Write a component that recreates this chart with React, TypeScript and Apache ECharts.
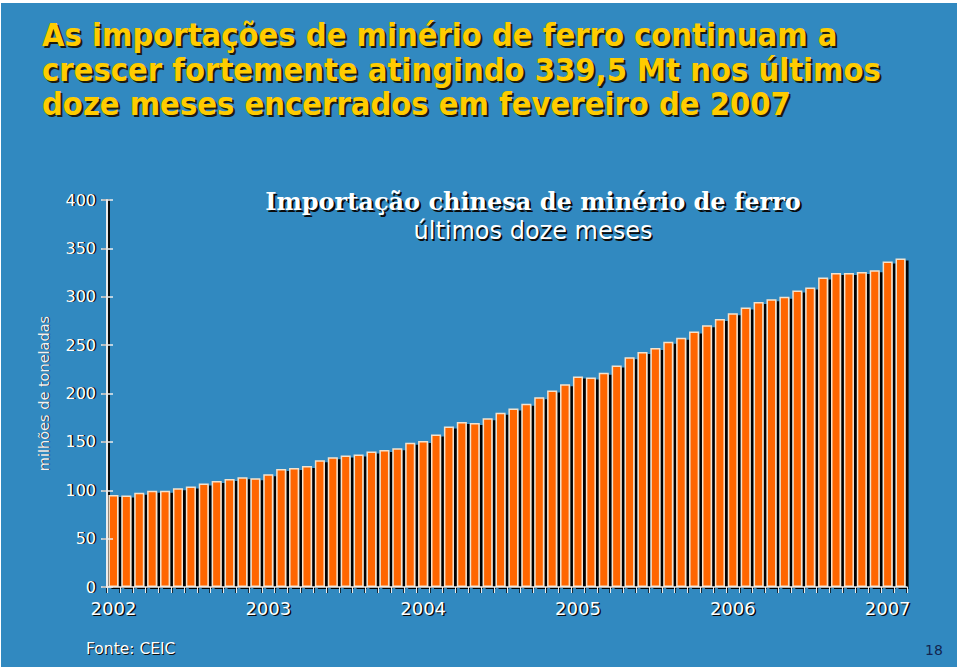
import React, { useEffect, useRef } from "react";
import * as echarts from "echarts";

// Monthly categories Jan 2002 .. Feb 2007 (12-month rolling sum)
const years = [2002, 2003, 2004, 2005, 2006, 2007];
const categories: string[] = [];
for (const y of years) {
  for (let m = 1; m <= 12; m++) {
    if (y === 2007 && m > 2) break;
    categories.push(`${y}-${m < 10 ? "0" + m : m}`);
  }
}

// Chinese iron-ore imports, last twelve months (million tonnes)
const imports = [
  95, 94.5, 97.5, 99.5, 99.5, 102, 104, 107, 109.5, 111.5, 113.5, 112.5,
  116.5, 122, 123, 125, 131, 134, 136, 137, 140, 141.5, 143.5, 149,
  151, 157.5, 166, 170.5, 169.5, 174.5, 180, 184.5, 189.5, 196, 203, 209.5,
  217.5, 216.5, 221.5, 229, 237.5, 243, 247, 253.5, 257.5, 264, 270.5, 277,
  283, 289, 294.5, 297.5, 300, 306.5, 309.5, 320, 324.5, 324.5, 325.5, 327.5,
  336.5, 339.5,
];

const yMin = 0;
const yMax = 400;
const yStep = 50;

const headline = [
  "As importações de minério de ferro continuam a",
  "crescer fortemente atingindo 339,5 Mt nos últimos",
  "doze meses encerrados em fevereiro de 2007",
];
const chartTitle = "Importação chinesa de minério de ferro";
const chartSubtitle = "últimos doze meses";
const yAxisName = "milhões de toneladas";
const source = "Fonte: CEIC";
const pageNumber = "18";

const BLUE = "#3189c0";
const SANS = "'DejaVu Sans', Verdana, sans-serif";
const SHADOW = "#0b0b0b";
const LIGHT = "#ececec";

function shadowed(base: any, dx: number, dy: number, shadowColor: string) {
  const sh = {
    ...base,
    left: base.left + dx,
    top: base.top + dy,
    textStyle: { ...base.textStyle, color: shadowColor },
  };
  return [sh, base];
}

export default function App() {
  const ref = useRef<HTMLDivElement>(null);
  useEffect(() => {
    if (!ref.current) return;
    const chart = echarts.init(ref.current, undefined, { renderer: "svg" });

    const titles = [
      ...shadowed(
        {
          text: headline.join("\n"),
          left: 42,
          top: 18,
          padding: 0,
          textStyle: {
            color: "#ffcc00",
            fontFamily: "'DejaVu Sans Condensed', 'DejaVu Sans', sans-serif",
            fontWeight: "bold",
            fontSize: 32.4,
            lineHeight: 34.5,
          },
        },
        2,
        2,
        "#1c1c10"
      ),
      ...shadowed(
        {
          text: chartTitle,
          left: 533,
          textAlign: "center",
          top: 189,
          padding: 0,
          textStyle: {
            color: "#ffffff",
            fontFamily: "'DejaVu Serif', serif",
            fontWeight: "bold",
            fontSize: 24,
          },
        },
        2,
        2,
        SHADOW
      ),
      ...shadowed(
        {
          text: chartSubtitle,
          left: 533,
          textAlign: "center",
          top: 219,
          padding: 0,
          textStyle: {
            color: "#ffffff",
            fontFamily: SANS,
            fontWeight: "normal",
            fontSize: 24,
          },
        },
        1.5,
        1.5,
        SHADOW
      ),
      ...shadowed(
        {
          text: source,
          left: 86,
          top: 641,
          padding: 0,
          textStyle: {
            color: "#ffffff",
            fontFamily: SANS,
            fontWeight: "normal",
            fontSize: 15.5,
          },
        },
        1,
        1,
        SHADOW
      ),
      {
        text: pageNumber,
        left: 925,
        top: 643,
        padding: 0,
        textStyle: {
          color: "#13254f",
          fontFamily: SANS,
          fontWeight: "normal",
          fontSize: 14,
        },
      },
    ];

    const xBase = {
      type: "category",
      data: categories,
      boundaryGap: true,
      position: "bottom",
      splitLine: { show: false },
    };
    const yBase = {
      type: "value",
      min: yMin,
      max: yMax,
      interval: yStep,
      position: "left",
      nameLocation: "middle",
      nameRotate: 90,
      nameGap: 56,
      splitLine: { show: false },
    };
    const xLabel = {
      interval: (index: number) => index % 12 === 0,
      formatter: (v: string) => v.slice(0, 4),
      fontFamily: SANS,
      fontSize: 18,
      margin: 12,
    };
    const yLabel = {
      fontFamily: SANS,
      fontSize: 16,
      margin: 11,
    };
    const yName = { fontFamily: SANS, fontSize: 14.5 };

    chart.setOption({
      animation: false,
      backgroundColor: "#ffffff",
      title: titles,
      graphic: [
        {
          type: "rect",
          z: -10,
          silent: true,
          shape: { x: 1, y: 3, width: 956, height: 664 },
          style: { fill: BLUE },
        },
      ],
      grid: { left: 107, right: 53, top: 200, bottom: 85 },
      xAxis: [
        {
          ...xBase,
          z: 3,
          axisLine: { show: true, lineStyle: { color: LIGHT, width: 1.5 } },
          axisTick: {
            show: true,
            interval: 0,
            length: 6,
            lineStyle: { color: LIGHT, width: 1 },
          },
          axisLabel: { ...xLabel, color: "#ffffff" },
        },
        {
          ...xBase,
          z: 1,
          offset: 1.5,
          axisLine: { show: true, lineStyle: { color: SHADOW, width: 2 } },
          axisTick: {
            show: true,
            interval: 0,
            length: 6,
            lineStyle: { color: SHADOW, width: 1.5 },
          },
          axisLabel: { ...xLabel, color: SHADOW, padding: [0, 0, 0, 3] },
        },
      ],
      yAxis: [
        {
          ...yBase,
          z: 3,
          name: yAxisName,
          nameTextStyle: { ...yName, color: "#f2f2f2" },
          axisLine: { show: true, lineStyle: { color: LIGHT, width: 2 } },
          axisTick: {
            show: true,
            length: 6,
            lineStyle: { color: LIGHT, width: 1.5 },
          },
          axisLabel: { ...yLabel, color: "#ffffff" },
        },
        {
          ...yBase,
          z: 1,
          offset: -1.5,
          name: yAxisName,
          nameTextStyle: { ...yName, color: "#1a2a40" },
          axisLine: { show: true, lineStyle: { color: SHADOW, width: 2 } },
          axisTick: {
            show: true,
            length: 6,
            lineStyle: { color: SHADOW, width: 1.5 },
          },
          axisLabel: { ...yLabel, color: SHADOW, padding: [3, 0, 0, 0] },
        },
        {
          ...yBase,
          z: 3,
          axisLine: { show: false },
          axisTick: {
            show: true,
            inside: true,
            length: 6,
            lineStyle: { color: LIGHT, width: 1.5 },
          },
          axisLabel: { show: false },
        },
      ],
      series: [
        {
          type: "bar",
          data: imports,
          xAxisIndex: 0,
          yAxisIndex: 0,
          barCategoryGap: "22%",
          itemStyle: {
            color: "#ff6600",
            borderColor: "#f3e3cf",
            borderWidth: 1.5,
            shadowColor: "#000000",
            shadowOffsetX: 3,
            shadowOffsetY: 2,
            shadowBlur: 0,
          },
        },
      ],
    });
    return () => chart.dispose();
  }, []);
  return (
    <div
      ref={ref}
      style={{ position: "absolute", left: 0, top: 0, width: 960, height: 672 }}
    />
  );
}
